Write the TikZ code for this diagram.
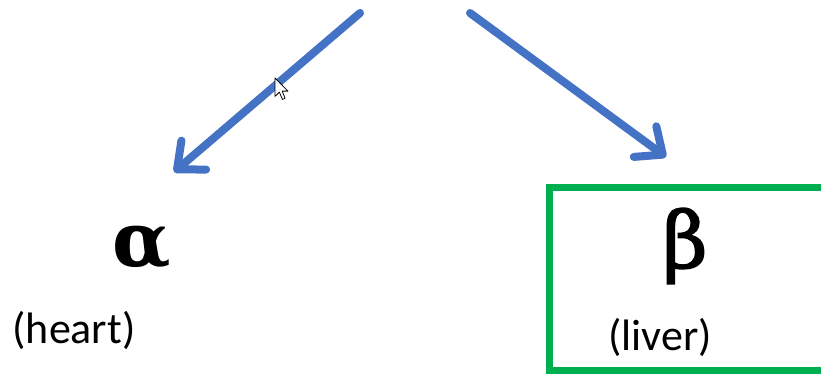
\documentclass[tikz,border=0pt]{standalone}
\usepackage{fontspec}
\setmainfont{Carlito}
\newfontfamily\greekfont{DejaVu Serif}
\newfontfamily\betafont[FakeBold=2]{DejaVu Serif}
\usetikzlibrary{arrows.meta}
\definecolor{arrowblue}{HTML}{4472C4}
\definecolor{boxgreen}{HTML}{00B050}
\tikzset{
  bluearrow/.style={draw=arrowblue, line width=8pt, line cap=round,
    -{Straight Barb[length=22pt,width=38pt,round]}},
  greekletter/.style={inner sep=0pt, font=\greekfont\fontsize{76}{80}\selectfont},
  organ/.style={inner sep=0pt, font=\fontsize{44}{48}\selectfont},
  greenbox/.style={draw=boxgreen, line width=7.5pt}
}
\begin{document}
\begin{tikzpicture}[x=1pt,y=1pt]
\useasboundingbox (0,0) rectangle (821,373);
\fill[white] (0,0) rectangle (821,373);
% green box (open to the right, clipped at the bottom)
\coordinate (bxtr) at (830,185.5);
\coordinate (bxtl) at (549.5,185.5);
\coordinate (bxbl) at (549.5,2);
\coordinate (bxbr) at (830,2);
\draw[greenbox] (bxtr) -- (bxtl) -- (bxbl) -- (bxbr);
% texts
\node[greekletter, font=\greekfont\bfseries\fontsize{76}{80}\selectfont] (alpha) at (142,125) {α};
\node[greekletter, font=\betafont\fontsize{78}{82}\selectfont] (beta) at (685,127) {β};
\node[organ] (heart) at (74,43) {(heart)};
\node[organ] (liver) at (660,36) {(liver)};
% arrows
\coordinate (lstart) at (360,360);
\coordinate (ltip) at (174,201);
\coordinate (rstart) at (470,360);
\coordinate (rtip) at (666,216);
\draw[bluearrow] (lstart) -- (ltip);
\draw[bluearrow] (rstart) -- (rtip);
% mouse cursor
\draw[black, fill=white, line width=0.8pt, line join=round, shift={(275,295)}, scale=1.15]
  (0,0) -- (0,-16) -- (3.8,-12.3) -- (6.5,-18.6) -- (8.8,-17.6) -- (6.2,-11.4) -- (11.3,-11.4) -- cycle;
\end{tikzpicture}
\end{document}
